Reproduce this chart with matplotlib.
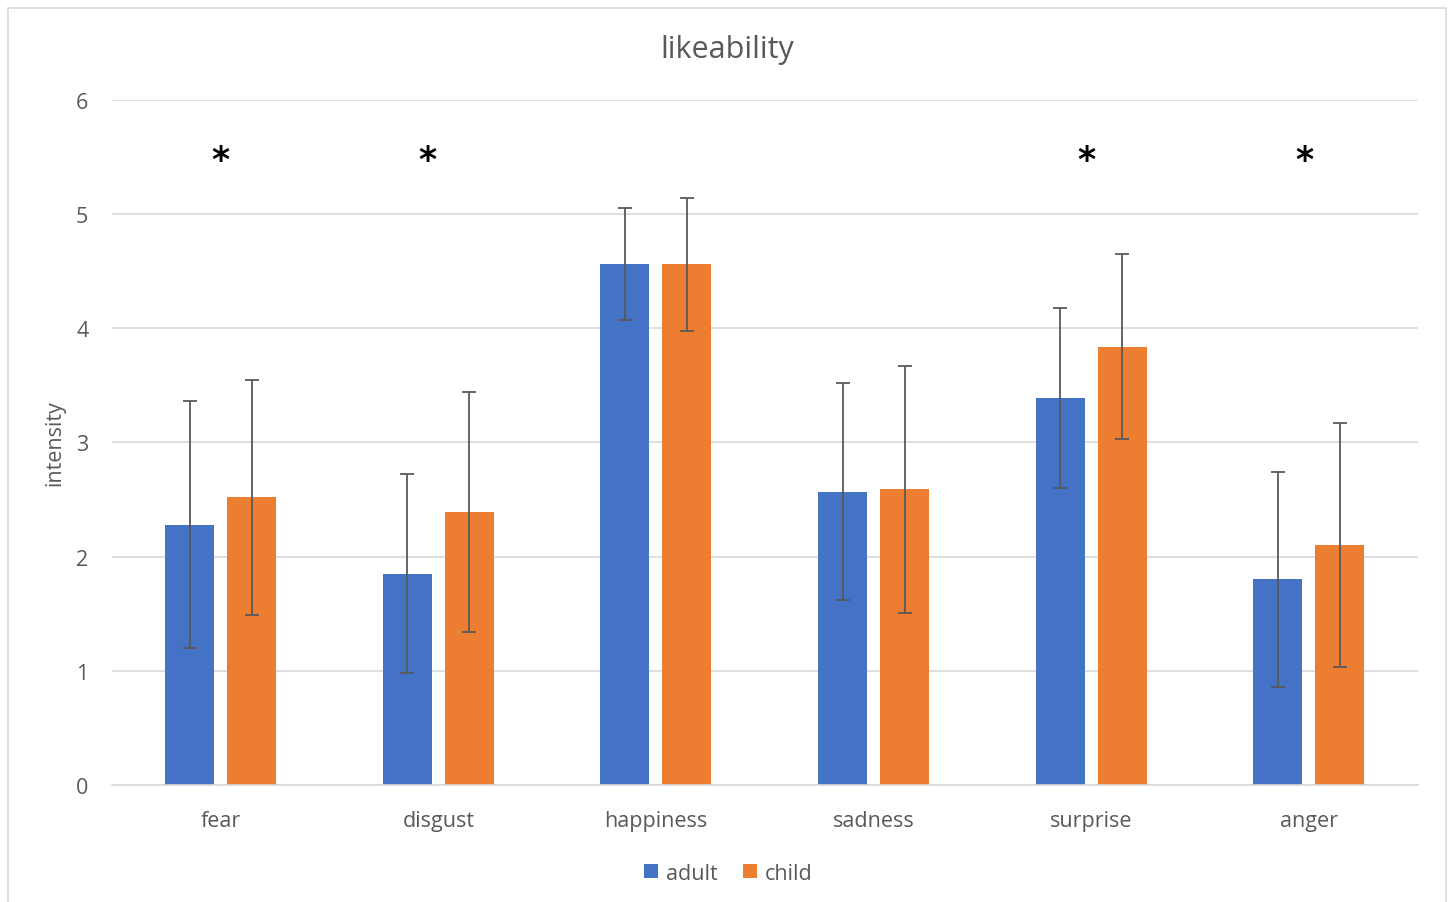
import numpy as np
import matplotlib.pyplot as plt
from matplotlib.patches import Rectangle

kategorie = ["fear", "disgust", "happiness", "sadness", "surprise", "anger"]
dorosli = [2.28, 1.85, 4.56, 2.57, 3.39, 1.80]
dorosli_err = [1.08, 0.87, 0.49, 0.95, 0.79, 0.94]
dzieci = [2.52, 2.39, 4.56, 2.59, 3.84, 2.10]
dzieci_err = [1.03, 1.05, 0.58, 1.08, 0.81, 1.07]
gwiazdki_x = [0.0, 0.95, 3.98, 4.98]
gwiazdki_y = 5.47

szary = "#595959"
plt.rcParams['font.family'] = ['Open Sans', 'DejaVu Sans']

fig = plt.figure(figsize=(14.48, 9.03), dpi=100)
fig.patches.append(Rectangle((0.0055, -0.01), 0.993, 1.0, transform=fig.transFigure,
                             fill=False, edgecolor="#D9D9D9", linewidth=1.2))
ax = fig.add_axes([0.0773, 0.1296, 0.9017, 0.7586])

x = np.arange(len(kategorie))
szer = 0.225
odstep = 0.06
ax.bar(x - (szer + odstep) / 2, dorosli, szer, color="#4472C4", label="adult",
       yerr=dorosli_err, error_kw=dict(ecolor=szary, elinewidth=1.3, capsize=5, capthick=1.3))
ax.bar(x + (szer + odstep) / 2, dzieci, szer, color="#ED7D31", label="child",
       yerr=dzieci_err, error_kw=dict(ecolor=szary, elinewidth=1.3, capsize=5, capthick=1.3))

for gx in gwiazdki_x:
    ax.text(gx, gwiazdki_y, "*", ha="center", va="center", fontsize=25,
            fontweight="bold", color="black", family="DejaVu Sans")

ax.set_xlim(-0.5, len(kategorie) - 0.5)
ax.set_ylim(0, 6)
ax.set_yticks(range(7))
ax.set_xticks(x)
ax.set_xticklabels(kategorie)
ax.yaxis.grid(True, color="#D9D9D9", linewidth=1.2)
ax.set_axisbelow(True)
for s in ["top", "right", "left"]:
    ax.spines[s].set_visible(False)
ax.spines["bottom"].set_color("#D9D9D9")
ax.spines["bottom"].set_linewidth(1.2)
ax.tick_params(length=0, labelsize=15.5, colors=szary)
ax.tick_params(axis="x", pad=18)
ax.tick_params(axis="y", pad=17)
ax.set_ylabel("intensity", fontsize=15.5, color=szary)
ax.yaxis.set_label_coords(-0.036, 0.5)
fig.text(0.502, 0.945, "likeability", ha="center", va="center", fontsize=22, color=szary)

ax.legend(loc="upper center", bbox_to_anchor=(0.472, -0.085), ncol=2, frameon=False,
          fontsize=15.5, labelcolor=szary, handlelength=0.65, handleheight=0.65,
          handletextpad=0.35, columnspacing=1.2)

fig.savefig("out.png", dpi=100)
